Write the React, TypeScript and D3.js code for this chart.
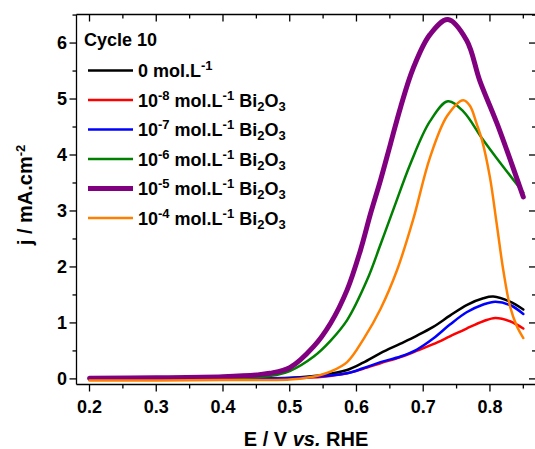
import React from 'react';
import * as d3 from 'd3';

// potentials (V vs RHE) and current densities (mA/cm2)
const eBlack = [0.2, 0.3, 0.4, 0.45, 0.5, 0.55, 0.586, 0.61, 0.636, 0.666, 0.69, 0.715, 0.74, 0.765, 0.79, 0.805, 0.83, 0.85];
const jBlack = [0.0, 0.0, 0.01, 0.01, 0.02, 0.07, 0.16, 0.29, 0.46, 0.63, 0.77, 0.93, 1.13, 1.32, 1.44, 1.47, 1.38, 1.24];

const eRed = [0.2, 0.3, 0.4, 0.45, 0.5, 0.55, 0.586, 0.61, 0.636, 0.666, 0.69, 0.715, 0.74, 0.765, 0.79, 0.808, 0.83, 0.85];
const jRed = [-0.01, -0.01, 0.0, 0.0, 0.01, 0.04, 0.1, 0.18, 0.28, 0.39, 0.5, 0.62, 0.76, 0.9, 1.03, 1.09, 1.03, 0.9];

const eBlue = [0.2, 0.3, 0.4, 0.45, 0.5, 0.55, 0.586, 0.61, 0.636, 0.666, 0.69, 0.715, 0.74, 0.765, 0.79, 0.808, 0.83, 0.85];
const jBlue = [-0.01, -0.01, 0.0, 0.0, 0.01, 0.05, 0.1, 0.19, 0.3, 0.4, 0.52, 0.72, 0.97, 1.19, 1.33, 1.38, 1.32, 1.16];

const eGreen = [0.2, 0.3, 0.4, 0.45, 0.48, 0.5, 0.536, 0.561, 0.586, 0.616, 0.636, 0.656, 0.681, 0.71, 0.737, 0.76, 0.788, 0.811, 0.85];
const jGreen = [0.0, 0.0, 0.01, 0.03, 0.07, 0.14, 0.4, 0.68, 1.05, 1.77, 2.4, 3.05, 3.85, 4.6, 4.96, 4.78, 4.3, 3.93, 3.33];

const ePurple = [0.2, 0.3, 0.4, 0.45, 0.47, 0.5, 0.536, 0.561, 0.586, 0.606, 0.621, 0.636, 0.651, 0.666, 0.685, 0.71, 0.737, 0.765, 0.785, 0.811, 0.85];
const jPurple = [0.01, 0.02, 0.04, 0.07, 0.1, 0.2, 0.58, 0.99, 1.59, 2.3, 2.95, 3.55, 4.2, 4.85, 5.55, 6.15, 6.42, 6.05, 5.32, 4.55, 3.25];

const eOrange = [0.2, 0.3, 0.4, 0.5, 0.53, 0.546, 0.561, 0.586, 0.611, 0.636, 0.661, 0.685, 0.71, 0.736, 0.76, 0.77, 0.78, 0.788, 0.8, 0.81, 0.82, 0.83, 0.84, 0.85];
const jOrange = [-0.03, -0.03, -0.02, -0.01, 0.03, 0.07, 0.13, 0.3, 0.72, 1.25, 1.95, 2.85, 3.95, 4.7, 4.98, 4.88, 4.56, 4.27, 3.6, 2.78, 1.94, 1.3, 0.95, 0.73];

// legend: exponent of concentration ('' means the blank)
const exponents = ['', '-8', '-7', '-6', '-5', '-4'];
const colors = ['#000000', '#ff0000', '#0000ff', '#008000', '#800080', '#ff8000'];
const widths = [2.5, 2.5, 2.5, 2.5, 5, 2.5];

const xTicks = [0.2, 0.3, 0.4, 0.5, 0.6, 0.7, 0.8];
const yTicks = [0, 1, 2, 3, 4, 5, 6];

const W = 535, H = 449;
const left = 76.5, right = 536, top = 14.5, bottom = 384.5;
const font = '"Liberation Sans", Arial, sans-serif';

export default function App() {
    const x = d3.scaleLinear().domain([0.1805, 0.869]).range([left, right]);
    const y = d3.scaleLinear().domain([-0.1, 6.51]).range([bottom, top]);

    const series = [
        [eBlack, jBlack], [eRed, jRed], [eBlue, jBlue],
        [eGreen, jGreen], [ePurple, jPurple], [eOrange, jOrange]
    ];

    const line = d3.line<[number, number]>()
        .x((d) => x(d[0]))
        .y((d) => y(d[1]))
        .curve(d3.curveCatmullRom.alpha(0.5));

    // minor ticks every half step
    const xMinor = d3.range(0.2, 0.86, 0.05).map((v) => +v.toFixed(2));
    const yMinor = d3.range(0, 6.6, 0.5);

    const legendY = [70.5, 100, 129.5, 159, 188.5, 218];

    return (
        <svg width={W} height={H} style={{ position: 'absolute', left: 0, top: 0, background: '#fff' }}
            fontFamily={font} fontWeight="bold">
            {/* curves */}
            {series.map(([es, js], i) => (
                <path key={i}
                    d={line(es.map((e, k) => [e, js[k]] as [number, number])) || ''}
                    fill="none" stroke={colors[i]} strokeWidth={widths[i]}
                    strokeLinecap="round" strokeLinejoin="round" />
            ))}

            {/* frame */}
            <g stroke="#000" strokeWidth={1.3}>
                <line x1={left} x2={left} y1={top} y2={bottom} />
                <line x1={left} x2={right} y1={bottom} y2={bottom} />
                <line x1={left} x2={right} y1={top} y2={top} />
                <line x1={right} x2={right} y1={top} y2={bottom} />
                {xMinor.map((v, i) => {
                    const major = Math.abs(v * 10 - Math.round(v * 10)) < 1e-6;
                    const len = major ? 7 : 4;
                    return (
                        <g key={'xt' + i}>
                            <line x1={x(v)} x2={x(v)} y1={bottom} y2={bottom + len} />
                            <line x1={x(v)} x2={x(v)} y1={top} y2={top + len} />
                        </g>
                    );
                })}
                {yMinor.map((v, i) => {
                    const len = Number.isInteger(v) ? 7 : 4;
                    return (
                        <g key={'yt' + i}>
                            <line x1={left - len} x2={left} y1={y(v)} y2={y(v)} />
                            <line x1={right - len} x2={right} y1={y(v)} y2={y(v)} />
                        </g>
                    );
                })}
            </g>

            {/* tick labels */}
            <g fontSize={18} fill="#000">
                {xTicks.map((v) => (
                    <text key={'xl' + v} x={x(v)} y={413} textAnchor="middle">{d3.format('.1f')(v)}</text>
                ))}
                {yTicks.map((v) => (
                    <text key={'yl' + v} x={67} y={y(v)} dy="0.35em" textAnchor="end">{v}</text>
                ))}
            </g>

            {/* axis titles */}
            <text x={306} y={446} textAnchor="middle" fontSize={20}>
                E / V <tspan fontStyle="italic">vs.</tspan> RHE
            </text>
            <text transform="translate(32,195) rotate(-90)" textAnchor="middle" fontSize={20}>
                j / mA.cm<tspan dy={-7} fontSize={13}>-2</tspan>
            </text>

            {/* legend */}
            <g fontSize={18}>
                <text x={84} y={46}>Cycle 10</text>
                {exponents.map((ex, i) => (
                    <g key={'lg' + i}>
                        <line x1={88} x2={133} y1={legendY[i]} y2={legendY[i]}
                            stroke={colors[i]} strokeWidth={widths[i]} />
                        {ex === '' ? (
                            <text x={138} y={legendY[i] + 6.5}>
                                0 mol.L<tspan dy={-7} fontSize={13}>-1</tspan>
                            </text>
                        ) : (
                            <text x={138} y={legendY[i] + 6.5}>
                                10<tspan dy={-7} fontSize={13}>{ex}</tspan>
                                <tspan dy={7}>{' mol.L'}</tspan>
                                <tspan dy={-7} fontSize={13}>-1</tspan>
                                <tspan dy={7}>{' Bi'}</tspan>
                                <tspan dy={4} fontSize={13}>2</tspan>
                                <tspan dy={-4}>O</tspan>
                                <tspan dy={4} fontSize={13}>3</tspan>
                            </text>
                        )}
                    </g>
                ))}
            </g>
        </svg>
    );
}
